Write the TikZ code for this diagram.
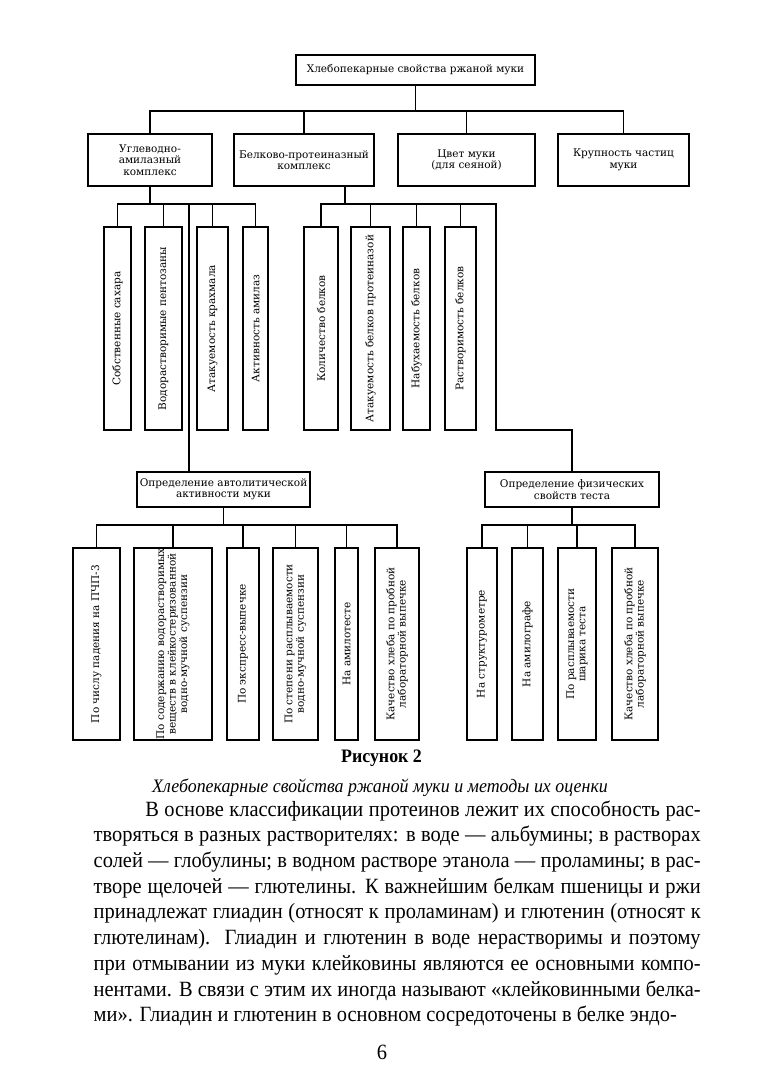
\documentclass[tikz,border=0pt]{standalone}
\usepackage{fontspec}
\setmainfont{Liberation Serif}[FakeStretch=0.94]
\newfontfamily\diagfont{DejaVu Serif}
\usepackage{tikz}
\usetikzlibrary{positioning}

\newlength\pxu
\setlength\pxu{0.19397mm}
\newcommand\dfont{\diagfont\fontsize{5.8}{6.3}\selectfont}

\tikzset{
  propbox/.style 2 args={draw, line width=0.8pt, align=center, inner sep=0pt,
    minimum width=#1\pxu, minimum height=#2\pxu, font=\dfont},
  leafbox/.style 2 args={propbox={#2}{#1}, rotate=90},
}

\begin{document}
\begin{tikzpicture}[x=0.19397mm, y=-0.19397mm, line width=0.8pt]
\fill[white] (0,0) rectangle (763,1079);
\useasboundingbox (0,0) rectangle (763,1079);

\node[propbox={239}{30}] (root) at (415.5,70) {Хлебопекарные свойства ржаной муки};

\node[propbox={124}{52}] (carb) at (150,160) {Углеводно-\\амилазный\\комплекс};
\node[propbox={140}{52}] (prot) at (304,160) {Белково-протеиназный\\комплекс};
\node[propbox={137}{52}] (color) at (466.5,160) {Цвет муки\\(для сеяной)};
\node[propbox={131}{52}] (size) at (623.5,160) {Крупность частиц\\муки};

\node[leafbox={27}{203}] (a1) at (117.5,328.5) {Собственные сахара};
\node[leafbox={37}{203}] (a2) at (163.5,328.5) {Водорастворимые пентозаны};
\node[leafbox={31}{203}] (a3) at (212.5,328.5) {Атакуемость крахмала};
\node[leafbox={25}{203}] (a4) at (255.5,328.5) {Активность амилаз};
\node[leafbox={34}{203}] (c1) at (321,328.5) {Количество белков};
\node[leafbox={39}{203}] (c2) at (370.5,328.5) {Атакуемость белков протеиназой};
\node[leafbox={27}{203}] (c3) at (416.5,328.5) {Набухаемость белков};
\node[leafbox={31}{203}] (c4) at (460.5,328.5) {Растворимость белков};

\node[propbox={173}{35}] (auto) at (223.5,489.5) {Определение автолитической\\активности муки};
\node[propbox={174}{35}] (phys) at (572,489.5) {Определение физических\\свойств теста};

\node[leafbox={47}{192}] (e1) at (96.5,644) {По числу падения на ПЧП-3};
\node[leafbox={78}{192}] (e2) at (173,644) {По содержанию водорастворимых\\веществ в клейкостеризованной\\водно-мучной суспензии};
\node[leafbox={32}{192}] (e3) at (243,644) {По экспресс-выпечке};
\node[leafbox={45}{192}] (e4) at (295.5,644) {По степени расплываемости\\водно-мучной суспензии};
\node[leafbox={23}{192}] (e5) at (346.5,644) {На амилотесте};
\node[leafbox={44}{192}] (e6) at (397,644) {Качество хлеба по пробной\\лабораторной выпечке};
\node[leafbox={30}{192}] (f1) at (482,644) {На структурометре};
\node[leafbox={31}{192}] (f2) at (527.5,644) {На амилографе};
\node[leafbox={38}{192}] (f3) at (577,644) {По расплываемости\\шарика теста};
\node[leafbox={46}{192}] (f4) at (635,644) {Качество хлеба по пробной\\лабораторной выпечке};

% buses (leaf tops are the .east anchors of the turned boxes)
\coordinate (busA) at (415.5,111);
\draw[-] (root.south) -- (busA);
\draw[-] (carb.north) |- (size.north |- busA) -- (size.north);
\foreach \n in {prot,color} \draw[-] (\n.north) -- (\n.north |- busA);

\coordinate (busB) at (150,204);
\coordinate (tapB) at (189,204);
\draw[-] (carb.south) -- (busB);
\draw[-] (a1.east) |- (a4.east |- busB) -- (a4.east);
\foreach \n in {a2,a3} \draw[-] (\n.east) -- (\n.east |- busB);
\draw[-] (tapB) -- (tapB |- auto.north);

\coordinate (busC) at (345,204);
\coordinate (turnC) at (496,204);
\coordinate (kneeC) at (496,430);
\draw[-] (busC |- prot.south) -- (busC);
\draw[-] (c1.east) |- (turnC) -- (kneeC) -| (phys.north);
\foreach \n in {c2,c3,c4} \draw[-] (\n.east) -- (\n.east |- turnC);

\coordinate (busD) at (223.5,525);
\draw[-] (auto.south) -- (busD);
\draw[-] (e1.east) |- (e6.east |- busD) -- (e6.east);
\foreach \n in {e2,e3,e4,e5} \draw[-] (\n.east) -- (\n.east |- busD);

\coordinate (busE) at (572,525);
\draw[-] (phys.south) -- (busE);
\draw[-] (f1.east) |- (f4.east |- busE) -- (f4.east);
\foreach \n in {f2,f3} \draw[-] (\n.east) -- (\n.east |- busE);

\node[font=\bfseries\fontsize{10.5}{12}\selectfont] (fig) at (381.5,758) {Рисунок 2};
\node[font=\itshape\fontsize{10.5}{12}\selectfont] (cap) at (380,788) {Хлебопекарные свойства ржаной муки и методы их оценки};

\node[anchor=base west, text width=607\pxu, inner sep=0pt, align=justify,
  font=\fontsize{12}{14.2}\selectfont] (body) at (93,816) {\parfillskip=0pt
\hspace*{1cm}В основе классификации протеинов лежит их способность рас-\linebreak
творяться в разных растворителях: в воде — альбумины; в растворах\linebreak
солей — глобулины; в водном растворе этанола — проламины; в рас-\linebreak
творе щелочей — глютелины. К важнейшим белкам пшеницы и ржи\linebreak
принадлежат глиадин (относят к проламинам) и глютенин (относят к\linebreak
глютелинам). Глиадин и глютенин в воде нерастворимы и поэтому\linebreak
при отмывании из муки клейковины являются ее основными компо-\linebreak
нентами. В связи с этим их иногда называют «клейковинными белка-\linebreak
ми». Глиадин и глютенин в основном сосредоточены в белке эндо-};

\node[font=\fontsize{12}{14}\selectfont] (pnum) at (382,1052) {6};
\end{tikzpicture}
\end{document}
